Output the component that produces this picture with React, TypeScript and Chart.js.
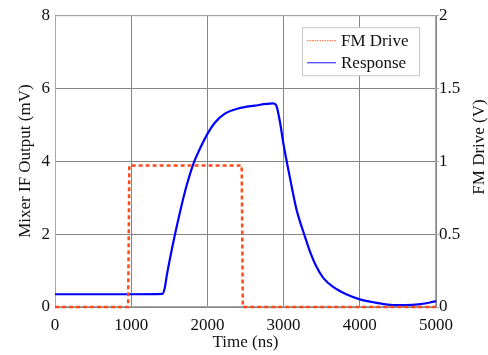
import React, { useEffect, useRef } from "react";
import { Chart, registerables } from "chart.js";

Chart.register(...registerables);

// Response trace (mixer IF output, mV) sampled against time (ns)
const responseTimeNs = [
  0, 500, 1000, 1410, 1440, 1470, 1550, 1640, 1730, 1815, 1900, 2010, 2100,
  2230, 2400, 2620, 2860, 2900, 2950, 3000, 3080, 3170, 3280, 3350, 3430, 3520,
  3650, 3830, 4000, 4200, 4400, 4600, 4800, 5000,
];
const responseMv = [
  0.35, 0.35, 0.35, 0.36, 0.52, 0.9, 1.75, 2.6, 3.35, 3.92, 4.33, 4.78, 5.06,
  5.3, 5.44, 5.52, 5.58, 5.54, 5.1, 4.45, 3.58, 2.67, 1.93, 1.5, 1.11, 0.8,
  0.55, 0.34, 0.21, 0.12, 0.06, 0.05, 0.08, 0.16,
];

// FM drive pulse (V)
const driveTimeNs = [0, 960, 975, 2450, 2465, 5000];
const driveV = [0, 0, 0.97, 0.97, 0, 0];

const xTicks = [0, 1000, 2000, 3000, 4000, 5000];
const yTicksMv = [0, 2, 4, 6, 8];
const yTicksV = [0, 0.5, 1, 1.5, 2];

const FONT = "'Liberation Serif', 'Times New Roman', serif";
const DRIVE_COLOR = "#ff4a1a";
const RESPONSE_COLOR = "#0000ff";
const GRID_COLOR = "#858585";
const FRAME_COLOR = "#a8a8a8";

const plain = (v: any) => String(v);

const framePlugin = {
  id: "frame",
  beforeDatasetsDraw(chart: any) {
    const { ctx, chartArea: a } = chart;
    ctx.save();
    ctx.strokeStyle = FRAME_COLOR;
    ctx.lineWidth = 1;
    ctx.strokeRect(a.left + 0.5, a.top + 0.5, a.right - a.left - 1, a.bottom - a.top - 1);
    ctx.restore();
  },
  afterDraw(chart: any) {
    const { ctx, chartArea: a } = chart;
    ctx.save();
    // right axis title, reading bottom to top
    ctx.font = `17px ${FONT}`;
    ctx.fillStyle = "#111";
    ctx.textAlign = "center";
    ctx.textBaseline = "middle";
    ctx.translate(480, 147);
    ctx.rotate(-Math.PI / 2);
    ctx.fillText("FM Drive (V)", 0, 0);
    ctx.restore();

    // legend box
    ctx.save();
    const bx = a.right - 134;
    const by = a.top + 12;
    ctx.fillStyle = "#fff";
    ctx.strokeStyle = "#c8c8c8";
    ctx.lineWidth = 1;
    ctx.fillRect(bx + 0.5, by + 0.5, 117, 48);
    ctx.strokeRect(bx + 0.5, by + 0.5, 117, 48);

    const items = [
      { label: "FM Drive", color: DRIVE_COLOR, dash: [1.5, 1], width: 1.2, y: by + 13.5 },
      { label: "Response", color: RESPONSE_COLOR, dash: [], width: 1.3, y: by + 35.5 },
    ];
    ctx.font = `17px ${FONT}`;
    ctx.textAlign = "left";
    ctx.textBaseline = "middle";
    for (const it of items) {
      ctx.strokeStyle = it.color;
      ctx.globalAlpha = 0.7;
      ctx.lineWidth = it.width;
      ctx.setLineDash(it.dash);
      ctx.beginPath();
      ctx.moveTo(bx + 5, it.y);
      ctx.lineTo(bx + 34, it.y);
      ctx.stroke();
      ctx.globalAlpha = 1;
      ctx.setLineDash([]);
      ctx.fillStyle = "#111";
      ctx.fillText(it.label, bx + 39, it.y + 1);
    }
    ctx.restore();
  },
};

export default function App() {
  const canvasRef = useRef<HTMLCanvasElement | null>(null);

  useEffect(() => {
    document.body.style.margin = "0";
    const canvas = canvasRef.current;
    if (!canvas) return;

    const chart = new Chart(canvas, {
      type: "line",
      data: {
        datasets: [
          {
            label: "FM Drive",
            data: driveTimeNs.map((t, i) => ({ x: t, y: driveV[i] })),
            yAxisID: "y2",
            borderColor: DRIVE_COLOR,
            borderWidth: 2.5,
            borderDash: [4, 3],
            pointRadius: 0,
            tension: 0,
            clip: 4,
          },
          {
            label: "Response",
            data: responseTimeNs.map((t, i) => ({ x: t, y: responseMv[i] })),
            yAxisID: "y",
            borderColor: RESPONSE_COLOR,
            borderWidth: 2.2,
            pointRadius: 0,
            cubicInterpolationMode: "monotone",
            clip: 4,
          },
        ],
      },
      options: {
        animation: false,
        responsive: false,
        maintainAspectRatio: false,
        layout: { padding: { top: 15, left: 0, right: 0, bottom: 0 } },
        plugins: { legend: { display: false }, tooltip: { enabled: false } },
        scales: {
          x: {
            type: "linear",
            min: 0,
            max: 5000,
            afterBuildTicks: (s: any) => {
              s.ticks = xTicks.map((v) => ({ value: v }));
            },
            afterFit: (s: any) => {
              s.height = 48;
            },
            grid: { color: GRID_COLOR, drawTicks: false },
            border: { display: false },
            ticks: {
              padding: 8,
              color: "#111",
              font: { family: FONT, size: 17 },
              maxRotation: 0,
              callback: plain,
            },
            title: {
              display: true,
              text: "Time (ns)",
              color: "#111",
              font: { family: FONT, size: 17 },
              padding: { top: 0, bottom: 2 },
            },
          },
          y: {
            type: "linear",
            position: "left",
            min: 0,
            max: 8,
            afterBuildTicks: (s: any) => {
              s.ticks = yTicksMv.map((v) => ({ value: v }));
            },
            afterFit: (s: any) => {
              s.width = 55;
            },
            grid: { color: GRID_COLOR, drawTicks: false },
            border: { display: false },
            ticks: {
              padding: 5,
              color: "#111",
              font: { family: FONT, size: 17 },
              callback: plain,
            },
            title: {
              display: true,
              text: "Mixer IF Output (mV)",
              color: "#111",
              font: { family: FONT, size: 17 },
              padding: { top: 15, bottom: 0 },
            },
          },
          y2: {
            type: "linear",
            position: "right",
            min: 0,
            max: 2,
            afterBuildTicks: (s: any) => {
              s.ticks = yTicksV.map((v) => ({ value: v }));
            },
            afterFit: (s: any) => {
              s.width = 52;
            },
            grid: { drawOnChartArea: false, color: FRAME_COLOR, tickLength: 3 },
            border: { display: false },
            ticks: {
              padding: 0,
              color: "#111",
              font: { family: FONT, size: 17 },
              callback: plain,
            },
            title: { display: false },
          },
        },
      },
      plugins: [framePlugin],
    });

    return () => chart.destroy();
  }, []);

  return (
    <div style={{ position: "absolute", left: 0, top: 0, width: 488, height: 355, background: "#fff" }}>
      <canvas ref={canvasRef} width={488} height={355} style={{ width: 488, height: 355, display: "block" }} />
    </div>
  );
}
